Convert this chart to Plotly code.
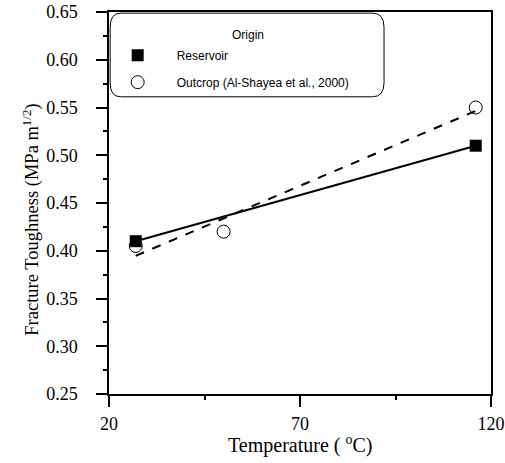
import numpy as np
import plotly.graph_objects as go

# data
reservoir_temp = [27, 116]
reservoir_kic = [0.41, 0.51]
outcrop_temp = [27, 50, 116]
outcrop_kic = [0.405, 0.42, 0.55]

x_ticks = [20, 70, 120]
y_ticks = [0.25, 0.30, 0.35, 0.40, 0.45, 0.50, 0.55, 0.60, 0.65]

serif = "Liberation Serif"
sans = "Liberation Sans"


def linear_fit(x, y):
    m, b = np.polyfit(x, y, 1)
    xs = np.array([min(x), max(x)])
    return xs, m * xs + b


fig = go.Figure()

rx, ry = linear_fit(reservoir_temp, reservoir_kic)
ox, oy = linear_fit(outcrop_temp, outcrop_kic)

fig.add_trace(go.Scatter(x=ox, y=oy, mode="lines", showlegend=False,
                         line=dict(color="black", width=2, dash="dash")))
fig.add_trace(go.Scatter(x=rx, y=ry, mode="lines", showlegend=False,
                         line=dict(color="black", width=2)))

fig.add_trace(go.Scatter(
    x=outcrop_temp, y=outcrop_kic, mode="markers",
    name="Outcrop (Al-Shayea et al., 2000)", legendgroup="b", legendrank=2,
    marker=dict(symbol="circle-open", size=13, color="black",
                line=dict(width=1))))
fig.add_trace(go.Scatter(
    x=reservoir_temp, y=reservoir_kic, mode="markers",
    name="Reservoir", legendgroup="a", legendrank=1,
    marker=dict(symbol="square", size=12, color="black")))

# rounded legend box + its title
fig.add_shape(type="path", xref="paper", yref="paper", layer="above",
              path="M 0.03 0.997 L 0.69 0.997 Q 0.72 0.997 0.72 0.96 "
                   "L 0.72 0.815 Q 0.72 0.778 0.69 0.778 L 0.03 0.778 "
                   "Q 0.003 0.778 0.003 0.815 L 0.003 0.96 "
                   "Q 0.003 0.997 0.03 0.997 Z",
              line=dict(color="black", width=1), fillcolor="rgba(0,0,0,0)")
fig.add_annotation(text="Origin", xref="paper", yref="paper", x=0.364,
                   y=0.963, showarrow=False,
                   font=dict(family=sans, size=12, color="black"))

# axis titles as annotations so they sit where the reference has them
fig.add_annotation(text="Fracture Toughness (MPa m<sup>1/2</sup>)",
                   xref="paper", yref="paper", x=-0.205, y=0.5, yshift=-17,
                   xanchor="center", yanchor="middle", textangle=-90,
                   showarrow=False,
                   font=dict(family=serif, size=18.5, color="black"))
fig.add_annotation(text="Temperature ( <sup>o</sup>C)",
                   xref="paper", yref="paper", x=0.5, y=-0.132,
                   xanchor="center", yanchor="middle", showarrow=False,
                   font=dict(family=serif, size=20, color="black"))

fig.update_layout(
    width=505, height=463,
    margin=dict(l=109, r=14, t=12, b=69),
    plot_bgcolor="white", paper_bgcolor="white",
    font=dict(family=serif, color="black"),
    legend=dict(
        x=-0.027, y=0.925, xanchor="left", yanchor="top",
        bgcolor="rgba(0,0,0,0)", borderwidth=0,
        font=dict(family=sans, size=12),
        traceorder="grouped", tracegroupgap=8, itemwidth=68),
    xaxis=dict(
        range=[20, 120], tickvals=x_ticks, ticks="outside", ticklen=11,
        tickwidth=1.5, tickcolor="black", showgrid=False, zeroline=False,
        showline=True, linecolor="black", linewidth=1.5, mirror=True,
        automargin=False, ticklabelstandoff=2,
        tickfont=dict(family=serif, size=18),
        minor=dict(tickvals=[45, 95], ticks="outside", ticklen=4,
                   tickcolor="black", tickwidth=1.5)),
    yaxis=dict(
        range=[0.25, 0.65], tickvals=y_ticks, tickformat=".2f",
        ticks="outside", ticklen=11, tickwidth=1.5, tickcolor="black",
        showgrid=False, zeroline=False, showline=True, linecolor="black",
        linewidth=1.5, mirror=True, automargin=False, ticklabelstandoff=15,
        tickfont=dict(family=serif, size=18),
        minor=dict(dtick=0.025, ticks="outside", ticklen=4,
                   tickcolor="black", tickwidth=1.5)),
)

# drop the browser's default body margin so the figure sits at (0, 0)
fig.write_html("out.html", config={"displayModeBar": False},
               post_script="document.body.style.margin = '0';")
